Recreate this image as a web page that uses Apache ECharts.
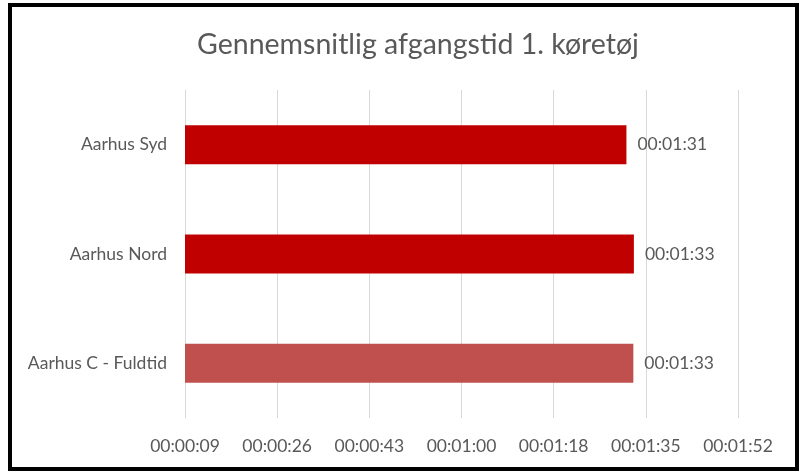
<!DOCTYPE html>
<html>
<head>
<meta charset="utf-8">
<script src="https://cdn.jsdelivr.net/npm/echarts@6/dist/echarts.min.js"></script>
<style>
  html, body { margin: 0; padding: 0; background: #fff; }
  #main { width: 802px; height: 472px; }
</style>
</head>
<body>
<div id="main"></div>
<script>
// kategorier nedefra og op
var categories = ['Aarhus C - Fuldtid', 'Aarhus Nord', 'Aarhus Syd'];
// gennemsnitlig afgangstid i sekunder (aflæst fra søjlerne)
var seconds = [92.7, 92.8, 91.4];
// aksen (Excel: 0,0001 dag start, 0,0002 dag trin)
var axisMin = 8.64;
var axisMax = 112.32;
var axisStep = 17.28;

function fmt(v) {
  var s = Math.round(v);
  var h = Math.floor(s / 3600);
  var m = Math.floor((s % 3600) / 60);
  var sec = s % 60;
  function p(n) { return (n < 10 ? '0' : '') + n; }
  return p(h) + ':' + p(m) + ':' + p(sec);
}

var chartDom = document.getElementById('main');
var myChart = echarts.init(chartDom);
var font = 'Lato';
var option = {
  animation: false,
  title: {
    text: 'Gennemsnitlig afgangstid 1. køretøj',
    left: 413,
    top: 25,
    textAlign: 'center',
    textStyle: { fontFamily: font, fontSize: 28.5, fontWeight: 'normal', color: '#595959' }
  },
  graphic: [{
    type: 'rect',
    shape: { x: 10, y: 5, width: 787, height: 464 },
    style: { fill: 'none', stroke: '#000', lineWidth: 4 }
  }],
  grid: { left: 185, right: 64, top: 90, bottom: 54, containLabel: false },
  xAxis: {
    type: 'value',
    min: axisMin,
    max: axisMax,
    interval: axisStep,
    axisLine: { show: false },
    axisTick: { show: false },
    splitLine: { show: true, lineStyle: { color: '#d9d9d9', width: 1 } },
    axisLabel: {
      formatter: fmt,
      margin: 19,
      fontFamily: font,
      fontSize: 17.5,
      color: '#595959'
    }
  },
  yAxis: {
    type: 'category',
    data: categories,
    axisLine: { show: true, lineStyle: { color: '#d9d9d9', width: 1 } },
    axisTick: { show: false },
    axisLabel: { margin: 18, fontFamily: font, fontSize: 17.5, color: '#595959' }
  },
  series: [{
    type: 'bar',
    data: seconds,
    barWidth: 39,
    itemStyle: {
      color: function (p) { return p.dataIndex === 0 ? '#C0504D' : '#C00000'; }
    },
    label: {
      show: true,
      position: 'right',
      distance: 11,
      formatter: function (p) { return fmt(p.value); },
      fontFamily: font,
      fontSize: 17.5,
      color: '#595959'
    }
  }]
};
option && myChart.setOption(option);
</script>
</body>
</html>
